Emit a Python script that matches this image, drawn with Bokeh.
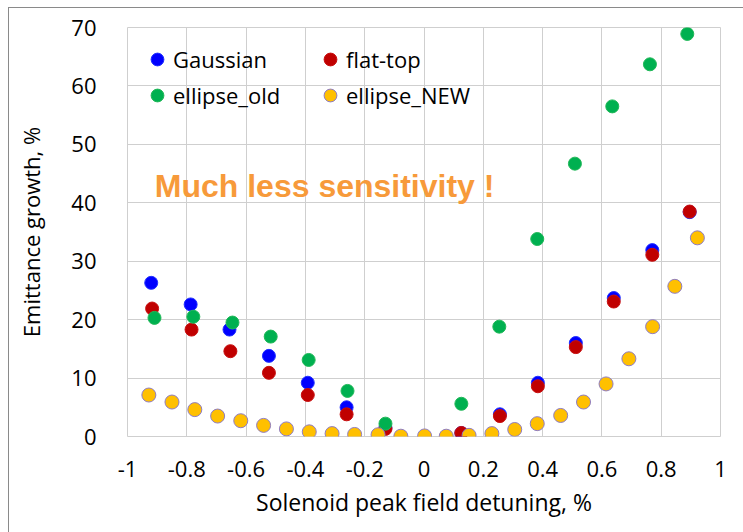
from bokeh.plotting import figure
from bokeh.models import FixedTicker, Legend, LegendItem, Label, Range1d
from bokeh.embed import file_html
from bokeh.resources import INLINE

# ---- data ----
gauss_x = [-0.92, -0.787, -0.656, -0.523, -0.392, -0.261, -0.13, 0.126, 0.256, 0.384, 0.512, 0.64, 0.77, 0.896]
gauss_y = [26.3, 22.6, 18.3, 13.8, 9.2, 5.0, 1.5, 0.6, 3.8, 9.2, 16.0, 23.7, 31.9, 38.4]

flat_x = [-0.917, -0.784, -0.653, -0.523, -0.392, -0.261, -0.13, 0.126, 0.256, 0.384, 0.512, 0.64, 0.77, 0.896]
flat_y = [21.9, 18.3, 14.6, 10.9, 7.1, 3.8, 1.3, 0.6, 3.5, 8.6, 15.3, 23.1, 31.1, 38.5]

old_x = [-0.909, -0.778, -0.646, -0.517, -0.389, -0.258, -0.13, 0.126, 0.254, 0.382, 0.509, 0.635, 0.762, 0.888]
old_y = [20.3, 20.5, 19.5, 17.1, 13.1, 7.8, 2.2, 5.6, 18.8, 33.8, 46.7, 56.5, 63.7, 68.9]

new_x = [-0.928, -0.85, -0.773, -0.696, -0.618, -0.541, -0.464, -0.387, -0.31, -0.234, -0.155, -0.078,
         0.002, 0.075, 0.152, 0.229, 0.306, 0.382, 0.461, 0.538, 0.614, 0.691, 0.771, 0.846, 0.922]
new_y = [7.1, 5.9, 4.6, 3.5, 2.7, 1.9, 1.3, 0.8, 0.5, 0.35, 0.3, 0.05,
         0.1, 0.05, 0.2, 0.5, 1.2, 2.2, 3.6, 5.9, 9.0, 13.3, 18.8, 25.7, 34.0]

series_names = ["Gaussian", "flat-top", "ellipse_old", "ellipse_NEW"]

x_ticks = [-1, -0.8, -0.6, -0.4, -0.2, 0, 0.2, 0.4, 0.6, 0.8, 1]
x_tick_labels = ["-1", "-0.8", "-0.6", "-0.4", "-0.2", "0", "0.2", "0.4", "0.6", "0.8", "1"]
y_ticks = [0, 10, 20, 30, 40, 50, 60, 70]
y_tick_labels = ["0", "10", "20", "30", "40", "50", "60", "70"]

annotation_text = "Much less sensitivity !"

# ---- figure ----
FONT = "Open Sans"
p = figure(width=743, height=532, output_backend="svg", toolbar_location=None,
           x_range=Range1d(-1, 1), y_range=Range1d(0, 70),
           min_border_left=127, min_border_right=23, min_border_top=27,
           min_border_bottom=96)
p.background_fill_color = "white"
p.border_fill_color = "white"
p.outline_line_color = "#cfcfcf"
p.grid.grid_line_color = "#cfcfcf"
p.grid.grid_line_width = 1

p.xaxis.ticker = FixedTicker(ticks=x_ticks)
p.xaxis.major_label_overrides = dict(zip(x_ticks, x_tick_labels))
p.yaxis.ticker = FixedTicker(ticks=y_ticks)
p.yaxis.major_label_overrides = dict(zip(y_ticks, y_tick_labels))

for ax in (p.xaxis, p.yaxis):
    ax.axis_line_color = None
    ax.major_tick_line_color = None
    ax.minor_tick_line_color = None
    ax.major_label_text_font = FONT
    ax.major_label_text_font_size = "22px"
    ax.major_label_text_color = "black"
    ax.axis_label_text_font = FONT
    ax.axis_label_text_font_style = "normal"
    ax.axis_label_text_color = "black"

p.xaxis.axis_label = "Solenoid peak field detuning, %"
p.xaxis.axis_label_text_font_size = "23px"
p.xaxis.major_label_standoff = 18
p.xaxis.axis_label_standoff = 6
p.yaxis.axis_label = "Emittance growth, %"
p.yaxis.axis_label_text_font_size = "22px"
p.yaxis.major_label_standoff = 25
p.yaxis.axis_label_standoff = 22

r_g = p.scatter(gauss_x, gauss_y, size=13, fill_color="#0000ff", line_color="#2030ff")
r_f = p.scatter(flat_x, flat_y, size=13, fill_color="#c00000", line_color="#c81010")
r_o = p.scatter(old_x, old_y, size=13, fill_color="#00b050", line_color="#20b858")
r_n = p.scatter(new_x, new_y, size=14, fill_color="#ffc000", line_color="#8e7cc3", line_width=1)

# legend fills column by column: order so rows read Gaussian/flat-top, ellipse_old/ellipse_NEW
legend = Legend(items=[LegendItem(label=series_names[0], renderers=[r_g]),
                       LegendItem(label=series_names[2], renderers=[r_o]),
                       LegendItem(label=series_names[1], renderers=[r_f]),
                       LegendItem(label=series_names[3], renderers=[r_n])],
                ncols=2, location=(14, 325), orientation="vertical")
legend.glyph_width = 32
legend.glyph_height = 32
legend.label_standoff = 0
legend.label_width = 137
legend.label_height = 32
legend.spacing = 4
legend.padding = 0
legend.margin = 0
legend.border_line_color = None
legend.background_fill_alpha = 0
legend.label_text_font = FONT
legend.label_text_font_size = "22px"
legend.label_text_color = "black"
p.add_layout(legend, "center")

lab = Label(x=-0.908, y=42.8, text=annotation_text, text_font="Liberation Sans",
            text_font_style="bold", text_font_size="32px", text_color="#f79a3a",
            text_baseline="alphabetic")
p.add_layout(lab)

html = file_html(p, INLINE)
border = ('<div style="position:fixed;left:8px;top:7px;width:900px;height:700px;'
          'border:1.5px solid #8a8a8a;pointer-events:none;z-index:10"></div>')
html = html.replace("</body>", border + "</body>")
open("out.html", "w").write(html)
